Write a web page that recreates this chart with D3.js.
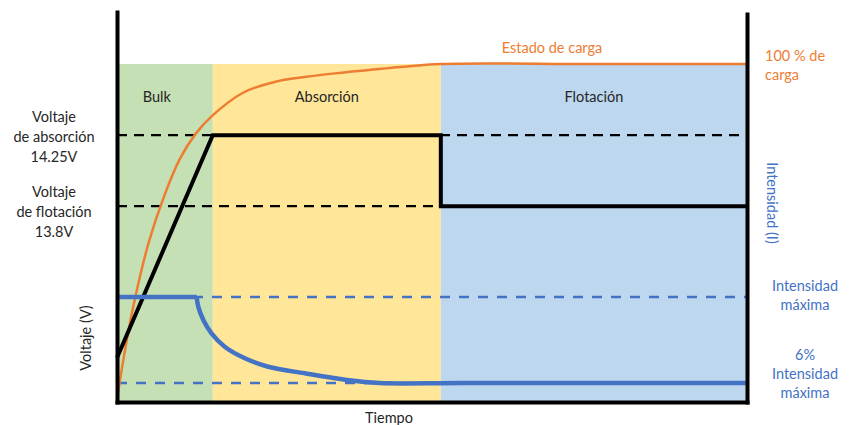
<!DOCTYPE html>
<html>
<head>
<meta charset="utf-8">
<script src="https://cdn.jsdelivr.net/npm/d3@7"></script>
<style>
  body { margin: 0; background: #fff; }
  text { font-family: Lato, "Open Sans", sans-serif; font-size: 14.5px; }
</style>
</head>
<body>
<script>
const width  = 849;
const height = 425;

// charge phases (time units 0..100)
const phaseNames = ['Bulk', 'Absorción', 'Flotación'];
const phaseStart = [0, 15.2, 51.4];
const phaseEnd   = [15.2, 51.4, 100];
const phaseColor = ['#c5e0b4', '#ffe699', '#bdd7ee'];

// voltage (V)
const voltTime  = [0, 15.2, 51.4, 51.4, 100];
const voltValue = [12.84, 14.25, 14.25, 13.8, 13.8];
const voltRefs  = [14.25, 13.8];

// state of charge (%)
const socTime  = [0, 1, 2.5, 5, 7.5, 10, 12.5, 15, 20, 25, 30, 35, 40, 45, 51.4, 75, 100];
const socValue = [0.6, 12.4, 27.5, 47, 61, 72, 79.4, 84.5, 91.5, 94.7, 96.2, 97.3, 98.2, 99.1, 100, 100, 100];

// current (% of max)
const curFlat  = [0, 12.65];
const curTime  = [12.65, 12.9, 13.7, 15.0, 17.1, 20.3, 24.0, 29.8, 36.5, 41.7, 55, 100];
const curValue = [100, 89.4, 74.9, 60.3, 45.7, 33, 23.8, 16.6, 9.3, 6, 6, 6];

const curRefs  = [100, 6];

const orange = '#ed7d31';
const blue   = '#4472c4';
const ink    = '#262626';

const x    = d3.scaleLinear().domain([0, 100]).range([117, 747]);
const yV   = d3.scaleLinear().domain([12.56, 15.03]).range([402, 12]);
const ySoc = d3.scaleLinear().domain([0, 100]).range([402, 64]);
const yCur = d3.scaleLinear().domain([0, 100]).range([388.5, 297]);

const svg = d3.select('body').append('svg')
  .attr('width', width)
  .attr('height', height);

// phase backgrounds
svg.selectAll('.phase')
  .data(phaseNames)
  .enter().append('rect')
  .attr('class', 'phase')
  .attr('x', (d, i) => x(phaseStart[i]))
  .attr('width', (d, i) => x(phaseEnd[i]) - x(phaseStart[i]))
  .attr('y', ySoc(100))
  .attr('height', ySoc(0) - ySoc(100))
  .attr('fill', (d, i) => phaseColor[i]);

svg.selectAll('.phaseLabel')
  .data(phaseNames)
  .enter().append('text')
  .attr('class', 'phaseLabel')
  .attr('x', (d, i) => (x(phaseStart[i]) + x(phaseEnd[i])) / 2 + (i === 0 ? -8 : 0))
  .attr('y', 102)
  .attr('text-anchor', 'middle')
  .attr('fill', ink)
  .text(d => d);

// reference dashed lines
svg.selectAll('.vref')
  .data(voltRefs)
  .enter().append('line')
  .attr('x1', x(0)).attr('x2', x(100))
  .attr('y1', d => yV(d)).attr('y2', d => yV(d))
  .attr('stroke', '#000').attr('stroke-width', 2.2)
  .attr('stroke-dasharray', '10,7');

svg.selectAll('.cref')
  .data(curRefs)
  .enter().append('line')
  .attr('x1', x(0)).attr('x2', x(100))
  .attr('y1', d => yCur(d)).attr('y2', d => yCur(d))
  .attr('stroke', blue).attr('stroke-width', 2.5)
  .attr('stroke-dasharray', '10,9');

// state of charge
const socLine = d3.line()
  .x((d, i) => x(socTime[i]))
  .y(d => ySoc(d))
  .curve(d3.curveCatmullRom.alpha(0.5));

svg.append('path')
  .attr('d', socLine(socValue))
  .attr('fill', 'none')
  .attr('stroke', orange)
  .attr('stroke-width', 2.5);

// voltage
const voltLine = d3.line()
  .x((d, i) => x(voltTime[i]))
  .y(d => yV(d));

svg.append('path')
  .attr('d', voltLine(voltValue))
  .attr('fill', 'none')
  .attr('stroke', '#000')
  .attr('stroke-width', 4);

// current: flat part, then decay
const curLine = d3.line()
  .x((d, i) => x(curTime[i]))
  .y(d => yCur(d))
  .curve(d3.curveCatmullRom.alpha(0.5));

svg.append('line')
  .attr('x1', x(curFlat[0])).attr('x2', x(curFlat[1]))
  .attr('y1', yCur(100)).attr('y2', yCur(100))
  .attr('stroke', blue)
  .attr('stroke-width', 4.5);

svg.append('path')
  .attr('d', curLine(curValue))
  .attr('fill', 'none')
  .attr('stroke', blue)
  .attr('stroke-width', 4.5)
  .attr('stroke-linejoin', 'round');

// axes
const axisBottom = svg.append('g')
  .attr('transform', 'translate(0,' + yV.range()[0] + ')')
  .call(d3.axisBottom(x).tickValues([]).tickSizeOuter(0));
const axisLeft = svg.append('g')
  .attr('transform', 'translate(' + x(0) + ',0)')
  .call(d3.axisLeft(yV).tickValues([]).tickSizeOuter(0));
const axisRight = svg.append('g')
  .attr('transform', 'translate(' + x(100) + ',0)')
  .call(d3.axisRight(yV.copy().range([402, 14])).tickValues([]).tickSizeOuter(0));
[axisBottom, axisLeft, axisRight].forEach(a => {
  a.select('.domain').attr('stroke', '#000').attr('stroke-width', 4)
    .attr('stroke-linecap', 'square');
});

// left labels
const leftLabels = [
  ['Voltaje', 'de absorción', '14.25V'],
  ['Voltaje', 'de flotación', '13.8V']
];
const leftTop = [122, 197];
leftLabels.forEach((lines, k) => {
  svg.append('text')
    .attr('text-anchor', 'middle')
    .attr('fill', ink)
    .selectAll('tspan')
    .data(lines)
    .enter().append('tspan')
    .attr('x', 54)
    .attr('y', (d, i) => leftTop[k] + i * 20)
    .text(d => d);
});

svg.append('text')
  .attr('transform', 'translate(91,338) rotate(-90)')
  .attr('text-anchor', 'middle')
  .attr('fill', ink)
  .text('Voltaje (V)');

svg.append('text')
  .attr('x', 389).attr('y', 423)
  .attr('text-anchor', 'middle')
  .attr('fill', ink)
  .text('Tiempo');

svg.append('text')
  .attr('x', 552).attr('y', 53)
  .attr('text-anchor', 'middle')
  .attr('fill', orange)
  .text('Estado de carga');

svg.append('text')
  .attr('fill', orange)
  .selectAll('tspan')
  .data(['100 % de', 'carga'])
  .enter().append('tspan')
  .attr('x', 765)
  .attr('y', (d, i) => 61 + i * 19)
  .text(d => d);

svg.append('text')
  .attr('transform', 'translate(767,203) rotate(90)')
  .attr('text-anchor', 'middle')
  .attr('fill', blue)
  .text('Intensidad (I)');

const rightLabels = [
  ['Intensidad', 'máxima'],
  ['6%', 'Intensidad', 'máxima']
];
const rightTop = [291, 360];
rightLabels.forEach((lines, k) => {
  svg.append('text')
    .attr('text-anchor', 'middle')
    .attr('fill', blue)
    .selectAll('tspan')
    .data(lines)
    .enter().append('tspan')
    .attr('x', 805)
    .attr('y', (d, i) => rightTop[k] + i * 19)
    .text(d => d);
});
</script>
</body>
</html>
